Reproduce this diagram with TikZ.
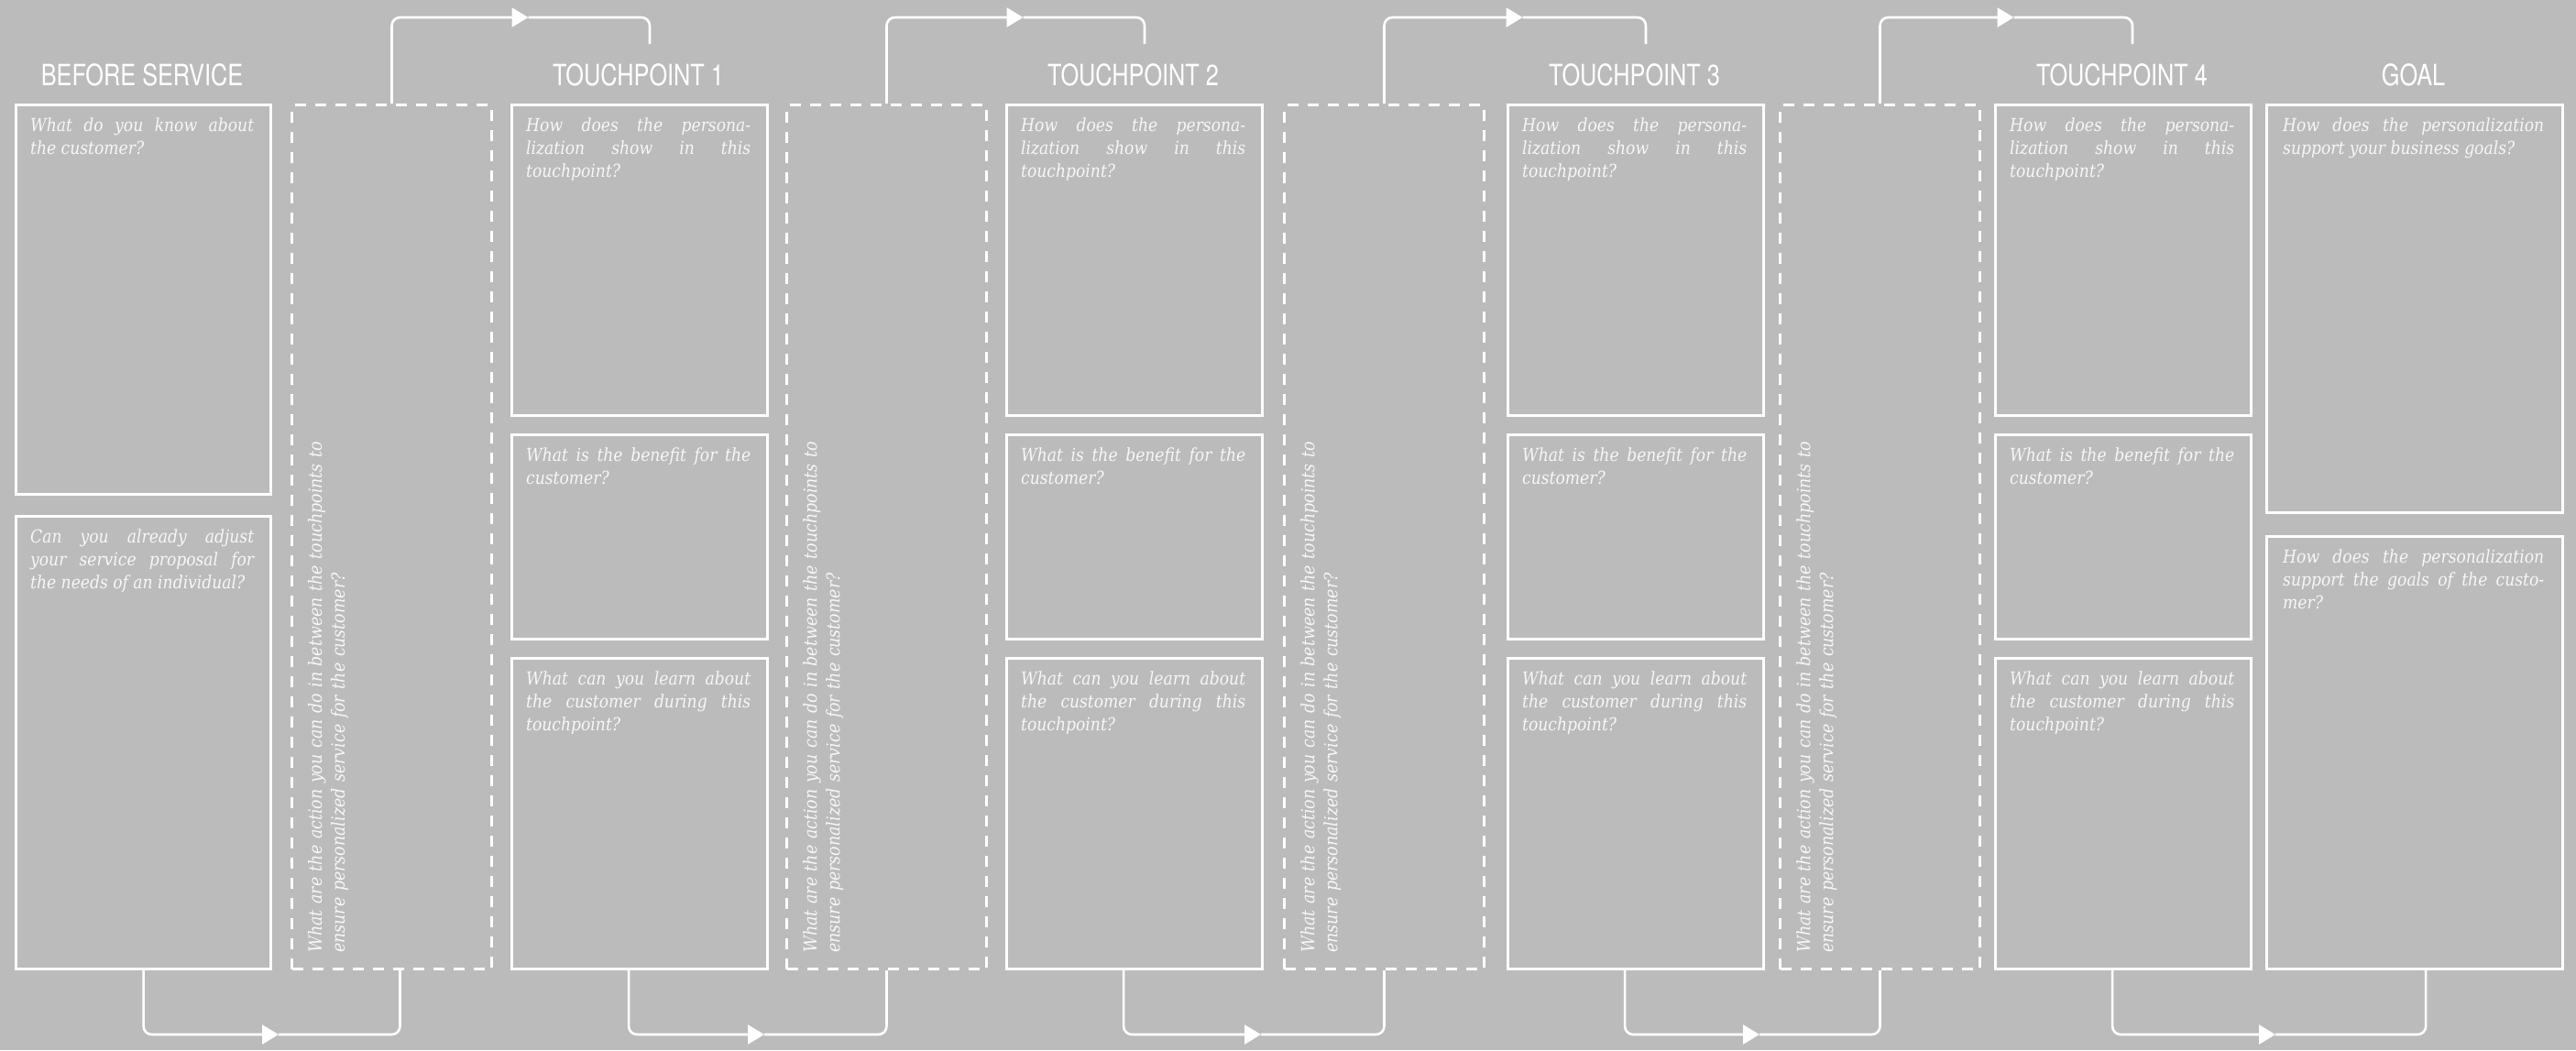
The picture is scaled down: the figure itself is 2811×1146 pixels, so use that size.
\documentclass[tikz,border=0pt]{standalone}
\usepackage{fontspec}
\usetikzlibrary{arrows.meta,calc}
\newfontfamily\qfont[FakeStretch=0.88]{DejaVu Serif}
\newfontfamily\hfont[FakeStretch=0.79]{TeX Gyre Heros}
\definecolor{bgc}{HTML}{BBBBBB}
\definecolor{txc}{HTML}{F7F7F7}
\newcommand\qA{How does the persona-\linebreak lization show in this\linebreak touchpoint?}
\newcommand\qB{What is the benefit for the\linebreak customer?}
\newcommand\qC{What can you learn about\linebreak the customer during this\linebreak touchpoint?}
\newcommand\qR{What are the action you can do in between the touchpoints to\\ ensure personalized service for the customer?}
\begin{document}
\begin{tikzpicture}[x=1pt,y=-1pt,
 box/.style={draw=white, line width=3.2pt, rectangle, inner sep=0pt, anchor=north west},
 dbox/.style={draw=white, line width=3pt, dash pattern=on 12pt off 10pt, rectangle, inner sep=0pt, anchor=north west, minimum width=218pt, minimum height=943pt},
 qtext/.style={inner sep=0pt, anchor=north west, align=justify, text=txc, font=\qfont\itshape\fontsize{19.5pt}{25pt}\selectfont},
 rtext/.style={inner sep=0pt, anchor=north west, rotate=90, align=left, text width=620pt, text=txc, font=\qfont\itshape\fontsize{19.8pt}{25pt}\selectfont},
 hdr/.style={anchor=base, inner sep=0pt, text=white, font=\hfont\fontsize{32pt}{38pt}\selectfont},
 conn/.style={draw=white, line width=2.6pt, rounded corners=9pt},
 tip/.style={-{Triangle[length=18pt,width=21pt]}},
]
\fill[bgc] (0,0) rectangle (2811,1146);
\useasboundingbox (0,0) rectangle (2811,1146);

% headers
\node[hdr] (h0) at (155,93) {BEFORE SERVICE};
\node[hdr] (h1) at (696.5,93) {TOUCHPOINT 1};
\node[hdr] (h2) at (1236.5,93) {TOUCHPOINT 2};
\node[hdr] (h3) at (1783.5,93) {TOUCHPOINT 3};
\node[hdr] (h4) at (2315.5,93) {TOUCHPOINT 4};
\node[hdr] (h5) at (2633.5,93) {GOAL};

% before service
\node[box, minimum width=278pt, minimum height=425pt] (bs1) at (16,113) {};
\node[qtext, text width=244pt] (bs1t) at ($(bs1.north west)+(17,15)$) {What do you know about\linebreak the customer?};
\node[box, minimum width=278pt, minimum height=494pt] (bs2) at (16,562) {};
\node[qtext, text width=244pt] (bs2t) at ($(bs2.north west)+(17,15)$) {Can you already adjust\linebreak your service proposal for\linebreak the needs of an individual?};

% dashed columns
\foreach \n/\x in {1/317,2/857,3/1400,4/1941}{
  \node[dbox] (d\n) at (\x,113) {};
  \node[rtext] (d\n t) at (\x+19,1040) {\qR};
}

% touchpoints
\foreach \n/\x in {1/557,2/1097,3/1644,4/2176}{
  \node[box, minimum width=279pt, minimum height=339pt] (tp\n a) at (\x,113) {};
  \node[qtext, text width=245pt] (tp\n at) at ($(tp\n a.north west)+(17,15)$) {\qA};
  \node[box, minimum width=279pt, minimum height=223pt] (tp\n b) at (\x,473) {};
  \node[qtext, text width=245pt] (tp\n bt) at ($(tp\n b.north west)+(17,15)$) {\qB};
  \node[box, minimum width=279pt, minimum height=339pt] (tp\n c) at (\x,717) {};
  \node[qtext, text width=245pt] (tp\n ct) at ($(tp\n c.north west)+(17,15)$) {\qC};
}

% goal
\node[box, minimum width=323pt, minimum height=445pt] (g1) at (2472,113) {};
\node[qtext, text width=285pt] (g1t) at ($(g1.north west)+(19,15)$) {How does the personalization\linebreak support your business goals?};
\node[box, minimum width=323pt, minimum height=472pt] (g2) at (2472,584) {};
\node[qtext, text width=285pt] (g2t) at ($(g2.north west)+(19,15)$) {How does the personalization\linebreak support the goals of the custo-\linebreak mer?};

% top connectors
\coordinate (tt1) at (576.5,19);  \coordinate (te1) at (709,48);
\coordinate (tt2) at (1116.5,19); \coordinate (te2) at (1249,48);
\coordinate (tt3) at (1661.5,19); \coordinate (te3) at (1796,48);
\coordinate (tt4) at (2197.5,19); \coordinate (te4) at (2327,48);
\foreach \n in {1,2,3,4}{
  \draw[conn,tip] (d\n.north) |- (tt\n);
  \draw[conn] (tt\n) -| (te\n);
}

% bottom connectors
\coordinate (bt1) at (304,1129);
\coordinate (bt2) at (834,1129);
\coordinate (bt3) at (1376,1129);
\coordinate (bt4) at (1920,1129);
\coordinate (bt5) at (2483,1129);
\draw[conn,tip] (bs2.south) |- (bt1);
\draw[conn] (bt1) -| ([xshift=9pt]d1.south);
\draw[conn,tip] ([xshift=-12pt]tp1c.south) |- (bt2);
\draw[conn] (bt2) -| (d2.south);
\draw[conn,tip] ([xshift=-12pt]tp2c.south) |- (bt3);
\draw[conn] (bt3) -| (d3.south);
\draw[conn,tip] ([xshift=-12pt]tp3c.south) |- (bt4);
\draw[conn] (bt4) -| (d4.south);
\draw[conn,tip] ([xshift=-12pt]tp4c.south) |- (bt5);
\draw[conn] (bt5) -| ([xshift=12pt]g2.south);
\end{tikzpicture}
\end{document}
